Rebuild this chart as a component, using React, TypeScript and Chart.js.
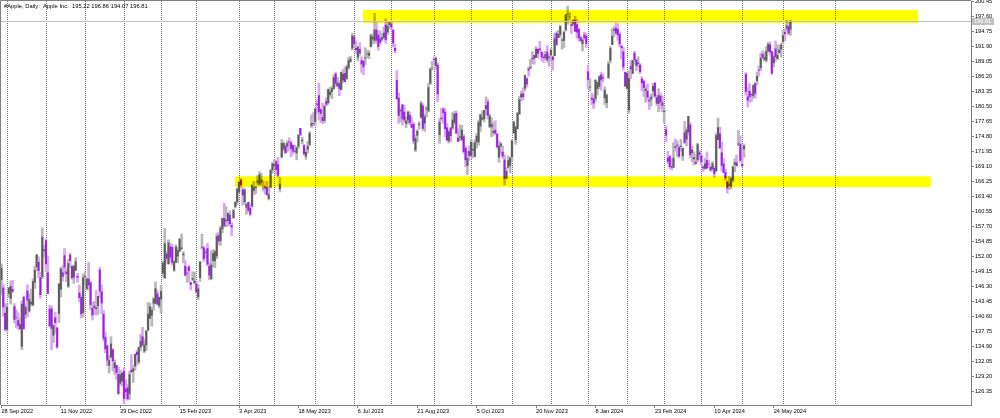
import React, { useEffect, useRef } from 'react';
import { Chart, registerables } from 'chart.js';
Chart.register(...registerables);

// ---- header ----
const headerTitle = '#Apple, Daily:  Apple Inc.';

// ---- daily OHLC, 28 Sep 2022 .. 7 Jun 2024 (one row per month) ----
const opens: number[] = [
  147.64,146.10,141.28,
  138.21,145.03,144.07,145.81,142.54,140.42,139.90,139.13,134.99,144.31,141.07,145.49,141.69,143.02,142.87,147.19,150.09,150.96,148.07,148.20,153.16,
  155.08,148.95,142.06,142.09,137.11,140.41,138.50,141.24,145.82,148.97,152.22,149.13,146.43,152.31,150.16,148.13,149.45,148.31,145.14,144.29,141.40,
  148.21,145.96,147.77,147.07,142.19,142.36,142.34,142.70,149.50,145.35,141.11,136.69,135.11,131.39,132.98,134.35,130.92,131.38,129.67,127.99,128.41,
  130.28,126.89,127.13,126.01,130.47,130.26,131.25,133.88,132.03,134.83,136.82,134.08,135.28,138.12,140.31,140.89,143.17,143.16,144.96,142.70,
  143.97,148.90,148.03,152.57,150.64,153.88,153.78,149.46,150.95,152.12,153.11,153.51,152.35,150.20,148.87,150.09,147.11,147.71,147.05,
  146.83,144.38,148.04,153.79,153.70,152.81,153.56,150.21,147.81,151.28,151.19,152.16,156.08,155.07,157.32,159.30,158.83,158.86,159.94,157.97,159.37,161.53,162.44,
  164.27,166.60,164.74,162.43,161.42,162.35,161.22,161.63,164.59,165.09,166.10,165.80,166.09,165.05,165.00,165.19,163.06,165.19,168.49,
  169.28,170.09,169.50,164.89,170.98,172.48,173.05,173.02,173.85,173.62,173.16,171.99,171.71,173.00,176.39,173.98,173.13,171.09,172.41,173.32,176.96,177.33,
  177.70,181.03,182.63,179.97,178.44,177.90,181.50,181.27,182.80,183.37,183.96,186.73,184.41,184.90,183.74,185.55,186.83,185.89,187.93,189.08,191.63,
  193.78,191.57,189.84,191.41,189.26,189.16,189.68,190.50,190.23,191.90,193.35,193.10,195.09,194.10,193.41,193.33,193.67,196.02,194.67,196.06,
  196.24,195.04,191.57,185.52,182.13,179.69,180.87,179.48,177.32,177.97,178.88,177.13,177.14,172.30,175.07,177.06,178.52,180.67,177.38,180.09,179.70,184.94,187.84,
  189.49,188.28,188.40,175.18,178.35,180.07,179.49,176.51,174.00,176.48,176.48,177.52,179.26,174.55,174.67,174.20,174.82,172.62,169.34,172.02,
  171.22,172.26,171.09,173.79,173.80,176.81,178.10,178.20,180.07,181.42,176.75,176.65,175.58,176.04,175.31,170.91,173.05,171.88,170.37,166.91,169.02,169.35,
  171.00,175.52,174.24,176.38,179.18,182.35,182.96,183.97,185.82,187.70,187.85,189.57,190.25,189.89,191.41,191.49,190.87,189.92,189.78,190.90,189.84,
  190.33,189.98,190.21,194.45,193.63,194.20,193.11,193.08,195.09,198.02,197.53,196.09,196.16,196.90,196.10,195.18,193.61,192.49,194.14,193.90,
  187.15,184.22,182.15,181.99,182.09,183.92,184.35,186.54,186.06,182.16,181.27,186.09,189.33,192.30,195.02,195.42,195.22,194.27,192.01,190.94,187.04,
  183.99,179.86,188.15,186.86,190.64,189.39,188.65,188.42,185.77,185.32,183.55,183.42,181.79,181.94,183.48,185.01,182.24,181.10,182.51,181.27,
  179.55,176.15,170.76,171.06,169.15,169.00,172.94,173.15,172.77,172.91,171.17,175.57,174.34,175.72,177.05,171.76,170.57,170.00,170.41,171.75,
  171.19,169.08,168.79,170.29,169.59,169.03,168.70,168.80,168.34,174.26,175.36,171.75,169.61,168.03,166.21,165.52,165.35,166.54,169.53,169.88,173.37,173.33,
  169.58,172.51,186.65,182.35,183.45,182.85,182.56,184.90,185.44,187.51,187.91,190.47,189.51,189.33,191.09,192.27,190.98,188.82,191.51,189.61,190.76,191.44,
  192.90,194.64,195.40,195.69,195.22,
];
const highs: number[] = [
  150.64,146.72,143.10,
  143.07,146.22,147.38,147.54,143.10,141.89,141.35,140.36,143.59,144.52,142.90,146.70,144.95,145.89,147.85,150.23,152.49,151.99,149.05,157.50,154.24,
  155.45,152.17,142.80,142.67,139.15,141.43,138.55,146.87,150.01,150.28,153.59,149.87,151.48,152.70,150.37,150.42,151.83,148.88,146.64,144.81,148.72,
  149.13,148.00,150.92,147.30,143.37,143.52,145.57,144.50,149.97,146.66,141.80,137.65,135.20,133.25,136.81,134.56,132.42,131.41,131.03,130.48,129.95,
  130.90,128.66,127.77,130.29,133.41,131.26,133.51,134.26,134.92,137.29,138.61,136.25,138.02,143.32,143.16,142.43,144.25,147.23,145.55,144.34,
  146.61,151.18,157.38,153.10,155.23,154.58,154.33,151.34,154.26,153.77,155.50,156.33,153.00,151.30,149.95,150.34,147.19,149.17,149.08,
  147.23,146.71,151.11,156.30,154.03,153.47,154.54,150.94,153.14,153.40,153.25,156.46,156.74,157.82,159.40,162.14,161.55,160.34,160.77,158.49,161.05,162.47,165.00,
  166.29,166.84,165.05,164.96,162.03,162.36,162.06,165.80,166.32,165.39,167.41,168.16,167.87,166.45,165.60,166.31,165.28,168.56,169.85,
  170.45,170.35,170.92,167.04,174.30,173.85,173.54,174.03,174.59,174.06,173.21,173.14,172.93,175.24,176.39,174.71,173.38,172.42,173.90,175.77,178.99,179.35,
  180.12,181.78,184.95,180.12,181.21,180.84,182.23,183.89,184.15,184.39,186.52,186.99,186.10,185.41,187.05,187.56,188.05,188.39,189.90,190.07,194.48,
  193.88,192.98,192.02,192.67,189.99,189.30,191.70,191.19,191.18,194.32,194.33,198.23,196.47,194.97,194.91,194.44,195.64,197.20,196.63,196.49,
  196.73,195.18,192.37,187.38,183.13,180.27,180.93,180.75,178.62,179.69,179.48,178.54,177.51,175.10,176.13,177.68,181.55,181.10,179.15,180.59,184.90,187.85,189.12,
  189.92,189.98,188.85,178.21,180.24,180.30,180.13,177.30,176.10,176.50,179.38,179.63,179.70,176.30,177.08,176.97,175.20,173.04,172.03,173.07,
  174.30,173.63,174.21,175.45,177.99,179.05,179.72,179.85,182.34,181.93,179.08,178.42,177.58,177.84,175.42,174.01,173.67,173.06,171.38,168.96,171.17,170.90,
  174.23,177.78,176.82,179.43,182.44,183.45,184.12,186.57,186.03,188.11,189.50,190.96,190.38,191.91,191.52,192.93,190.90,190.67,191.08,192.09,190.32,
  191.56,190.05,194.40,194.76,195.00,195.99,193.49,194.72,198.00,199.62,198.40,196.63,196.95,197.68,197.08,195.41,193.89,193.50,194.66,194.40,
  188.44,185.88,183.09,182.76,185.60,185.15,186.40,187.05,186.74,184.26,182.93,189.14,191.95,195.33,195.75,196.38,196.27,194.76,192.20,191.80,187.10,
  186.95,187.33,189.25,189.31,191.05,189.54,189.99,188.67,186.21,185.53,184.49,184.85,182.43,182.89,184.96,185.04,182.76,183.92,183.12,182.57,
  180.53,176.90,172.04,171.24,170.73,173.70,174.38,174.03,173.19,174.31,172.62,177.71,176.61,178.67,177.49,173.05,171.94,171.42,173.60,172.23,
  171.25,169.34,170.68,171.92,170.39,169.20,170.08,169.09,175.46,178.36,176.63,173.76,170.65,168.64,166.40,167.26,167.05,169.30,170.61,171.34,176.03,174.99,
  172.71,173.42,187.00,184.20,184.90,183.07,184.66,185.09,187.10,188.30,190.65,191.10,190.81,191.92,192.73,192.82,191.00,190.58,193.00,192.25,192.18,192.57,
  194.99,195.32,196.90,196.50,196.86,
];
const lows: number[] = [
  144.84,140.68,138.00,
  137.69,144.26,143.01,145.22,139.45,138.57,138.22,138.16,134.37,138.19,140.27,140.61,141.50,142.65,142.65,146.00,149.36,148.04,144.13,147.82,151.92,
  149.13,145.00,138.75,134.38,135.67,137.49,134.59,139.50,144.37,147.43,148.56,147.29,146.15,149.97,147.72,146.93,149.34,147.12,143.38,140.35,140.55,
  146.61,145.65,145.77,141.92,140.00,141.10,140.90,141.06,144.24,141.16,136.03,133.73,131.32,129.89,132.75,130.30,129.64,128.72,125.87,127.73,127.43,
  124.17,125.08,124.76,124.89,129.89,128.12,130.46,131.44,131.66,134.13,135.03,133.77,134.22,137.90,140.30,138.81,141.90,143.08,142.85,142.28,
  141.32,148.17,147.83,150.78,150.64,151.17,150.42,149.22,150.92,150.86,152.88,153.35,150.85,148.41,147.16,147.24,145.72,147.45,146.83,
  145.01,143.90,147.33,153.46,151.13,151.83,150.23,147.61,147.70,150.10,149.92,151.64,154.28,154.15,156.54,157.81,157.68,157.85,157.87,155.98,159.35,161.27,161.91,
  164.22,165.11,161.80,162.00,160.08,160.51,159.78,161.42,163.82,164.03,165.65,165.54,165.56,164.49,163.89,163.73,162.80,165.19,167.88,
  168.64,167.54,167.16,164.31,170.76,172.11,171.60,171.90,172.17,171.00,171.47,171.80,170.42,172.58,174.94,173.45,171.28,170.52,171.69,173.11,176.57,176.76,
  176.93,179.26,178.04,177.43,177.32,177.46,180.63,180.97,182.44,182.02,183.78,184.27,184.41,182.59,183.67,185.01,185.23,185.67,187.60,188.94,191.26,
  191.76,190.62,189.20,190.24,187.04,186.60,188.47,189.78,189.63,191.81,192.42,192.65,192.50,191.23,192.25,192.92,193.32,192.55,194.14,195.26,
  195.28,191.85,190.69,181.92,177.35,177.58,177.01,177.60,176.55,177.31,177.05,176.50,173.48,171.96,173.74,176.25,178.33,176.01,175.82,178.55,179.50,184.74,187.48,
  188.28,187.61,181.47,173.54,177.79,177.34,174.82,173.98,173.58,173.82,176.17,177.13,175.40,173.86,174.05,174.15,171.66,169.05,167.62,170.34,
  170.93,170.82,170.97,172.68,173.18,175.80,177.95,177.60,179.04,178.14,176.51,174.80,175.11,175.19,172.64,169.93,171.45,170.65,165.67,166.83,168.87,167.90,
  170.12,175.46,173.35,176.21,178.97,181.59,181.81,183.53,184.21,186.30,187.78,188.65,188.57,189.88,189.74,190.83,189.25,188.90,189.40,188.97,188.19,
  189.23,187.45,190.18,192.11,193.59,193.67,191.42,191.72,194.85,196.16,197.00,194.39,195.89,194.83,193.50,192.97,192.83,191.09,193.17,191.73,
  183.89,183.43,180.88,180.17,181.50,182.73,183.92,183.62,185.19,180.93,180.30,185.83,188.82,192.26,193.83,194.34,193.11,191.94,189.58,187.47,184.35,
  183.82,179.25,185.84,186.77,188.61,187.35,188.00,186.79,183.51,182.44,181.35,181.67,180.00,180.66,182.46,182.23,180.65,179.56,180.13,179.53,
  177.38,173.79,169.62,168.68,168.49,168.94,172.05,171.01,170.76,172.05,170.29,173.52,173.03,175.09,170.84,170.06,169.45,169.58,170.11,170.51,
  169.48,168.23,168.58,168.82,168.95,168.24,168.35,167.11,168.16,174.21,172.50,168.27,168.00,166.55,164.08,164.77,164.92,166.21,168.15,169.18,173.10,170.00,
  169.11,170.89,182.66,180.42,181.32,181.45,182.11,182.13,184.62,186.29,187.37,189.66,189.18,189.01,190.92,190.27,186.63,188.04,189.10,189.51,190.63,189.91,
  192.52,193.03,194.87,194.17,194.07,
];
const closes: number[] = [
  149.84,142.48,138.20,
  142.45,146.10,146.40,145.43,140.09,140.42,138.98,138.34,142.99,138.38,142.41,143.75,143.86,143.39,147.27,149.45,152.34,149.35,144.80,155.74,153.34,
  150.65,145.03,138.88,138.38,138.92,139.50,134.87,146.87,149.70,148.28,150.04,148.79,150.72,151.29,148.01,150.18,151.07,148.11,144.22,141.17,148.03,
  148.31,147.81,146.63,142.91,140.94,142.65,142.16,144.49,145.47,143.21,136.50,134.51,132.37,132.30,135.45,132.23,131.86,130.03,126.04,129.61,129.93,
  125.07,126.36,125.02,129.62,130.15,130.73,133.49,133.41,134.76,135.94,135.21,135.27,137.87,141.11,142.53,141.86,143.96,145.93,143.00,144.29,
  145.43,150.82,154.50,151.73,154.65,151.92,150.87,151.01,153.85,153.20,155.33,153.71,152.55,148.48,148.91,149.40,146.71,147.92,147.41,
  145.31,145.91,151.03,153.83,151.60,152.87,150.59,148.50,150.47,152.59,152.99,155.85,155.00,157.40,159.28,157.83,158.93,160.25,158.28,157.65,160.77,162.36,164.90,
  166.17,165.63,163.76,164.66,162.03,160.80,160.10,165.56,165.21,165.23,166.47,167.63,166.65,165.02,165.33,163.77,163.76,168.41,169.68,
  169.59,168.54,167.45,165.79,173.57,173.50,171.77,173.56,173.75,172.57,172.07,172.07,172.69,175.05,175.16,174.20,171.56,171.84,172.99,175.43,177.30,177.25,
  180.09,180.95,179.58,179.21,177.82,180.57,180.96,183.79,183.31,183.95,186.01,184.92,185.01,183.96,187.00,186.68,185.27,188.06,189.25,189.59,193.97,
  192.46,191.33,191.81,190.68,188.61,188.08,189.77,190.54,190.69,193.99,193.73,195.10,193.13,191.94,192.75,193.62,194.50,193.22,195.83,196.45,
  195.61,192.58,191.17,181.99,178.85,179.80,178.19,177.97,177.79,179.46,177.45,176.57,174.00,174.49,175.84,177.23,181.12,176.38,178.61,180.19,184.12,187.65,187.87,
  189.46,189.70,182.91,177.56,178.18,179.36,176.30,174.21,175.74,175.01,177.97,179.07,175.49,173.93,174.79,176.08,171.96,170.43,170.69,171.21,
  173.75,172.40,173.66,174.91,177.49,178.99,178.39,179.80,180.71,178.85,178.72,177.15,175.84,175.46,172.88,173.00,173.44,171.10,166.89,168.22,170.29,170.77,
  173.97,177.57,176.65,179.23,181.82,182.89,182.41,186.40,184.80,187.44,188.01,189.71,189.69,191.45,190.64,191.31,189.97,189.79,190.40,189.37,189.95,
  191.24,189.43,193.42,192.32,194.27,195.71,193.18,194.71,197.96,198.11,197.57,195.89,196.94,194.83,194.68,193.60,193.05,193.15,193.58,192.53,
  185.64,184.25,181.91,181.18,185.56,185.14,186.19,185.59,185.92,183.63,182.68,188.63,191.56,193.89,195.18,194.50,194.17,192.42,191.73,188.04,184.40,
  186.86,185.85,187.68,189.30,189.41,188.32,188.85,187.15,185.04,184.15,183.86,182.31,181.56,182.32,184.37,182.52,181.16,182.63,181.42,180.75,
  179.66,175.10,170.12,169.12,169.00,170.73,172.75,173.23,171.13,173.00,172.62,173.72,176.08,178.67,171.37,172.28,170.85,169.71,173.31,171.48,
  170.03,168.84,169.65,168.82,169.58,168.45,169.67,167.78,175.04,176.55,172.69,169.38,168.00,167.04,165.00,165.84,166.90,169.02,169.89,169.30,173.50,170.33,
  169.30,173.03,183.38,181.71,182.40,182.74,184.57,183.05,186.28,187.43,189.72,189.84,189.87,191.04,192.35,190.90,186.88,189.98,189.99,190.29,191.29,192.25,
  194.03,194.35,195.87,194.48,196.81,
];

// ---- axis labels ----
const xTickLabels = [
  '28 Sep 2022', '11 Nov 2022', '29 Dec 2022', '15 Feb 2023', '3 Apr 2023', '18 May 2023', '6 Jul 2023',
  '21 Aug 2023', '5 Oct 2023', '20 Nov 2023', '8 Jan 2024', '23 Feb 2024', '10 Apr 2024', '24 May 2024',
];
const xTickEvery = 32; // bars between date labels
const monthStartBars = [3, 24, 45, 66, 86, 105, 128, 147, 169, 190, 210, 233, 253, 275, 296, 316, 337, 357, 377, 399, 421, 449];
const yTickValues = [
  200.45, 197.60, 194.75, 191.90, 189.05, 186.20, 183.35, 180.50, 177.65, 174.80, 171.95, 169.10, 166.25, 163.40,
  160.55, 157.70, 154.85, 152.00, 149.15, 146.30, 143.45, 140.60, 137.75, 134.90, 132.05, 129.20, 126.35,
];

// ---- yellow support / resistance zones ----
const zoneFromBar = [194.8, 125.8];
const zoneToBar = [493.7, 500.7];
const zoneLow = [196.41, 165.24];
const zoneHigh = [198.87, 167.29];

const FONT = 'Tahoma, "Liberation Sans", Arial, sans-serif';

export default function App() {
  const ref = useRef<HTMLCanvasElement>(null);
  useEffect(() => {
    document.body.style.margin = '0';
    const canvas = ref.current!;
    const idx = closes.map((_, i) => i);
    const isUp = (i: number) => closes[i] >= opens[i];
    const last = closes.length - 1;

    const mtPlugin = {
      id: 'mt',
      beforeDatasetsDraw(chart: any) {
        const { ctx, chartArea: a, scales } = chart;
        ctx.save();
        ctx.strokeStyle = '#6e6e6e';
        ctx.lineWidth = 1;
        ctx.setLineDash([1, 1]);
        monthStartBars.forEach((b) => {
          const x = Math.round(scales.x.getPixelForValue(b)) + 0.5;
          if (x > a.right) return;
          ctx.beginPath();
          ctx.moveTo(x, a.top);
          ctx.lineTo(x, a.bottom);
          ctx.stroke();
        });
        ctx.restore();
      },
      afterDatasetsDraw(chart: any) {
        const { ctx, chartArea: a, scales } = chart;
        ctx.save();
        ctx.globalCompositeOperation = 'multiply';
        ctx.fillStyle = '#ffff00';
        zoneFromBar.forEach((f, k) => {
          const x1 = scales.x.getPixelForValue(f);
          const x2 = scales.x.getPixelForValue(zoneToBar[k]);
          const y1 = scales.y.getPixelForValue(zoneHigh[k]);
          const y2 = scales.y.getPixelForValue(zoneLow[k]);
          ctx.fillRect(x1, y1, x2 - x1, y2 - y1);
        });
        ctx.restore();
        // current price line
        ctx.save();
        const py = Math.round(scales.y.getPixelForValue(closes[last])) + 0.5;
        ctx.strokeStyle = '#c0c0c0';
        ctx.lineWidth = 1;
        ctx.beginPath();
        ctx.moveTo(a.left, py);
        ctx.lineTo(a.right, py);
        ctx.stroke();
        ctx.restore();
      },
      afterDraw(chart: any) {
        const { ctx, chartArea: a, scales } = chart;
        ctx.save();
        // left / top frame
        ctx.strokeStyle = '#808080';
        ctx.lineWidth = 1;
        ctx.beginPath();
        ctx.moveTo(a.left - 0.5, a.bottom);
        ctx.lineTo(a.left - 0.5, a.top - 0.5);
        ctx.lineTo(a.right, a.top - 0.5);
        ctx.stroke();
        // header
        ctx.fillStyle = '#000';
        ctx.font = `5.8px ${FONT}`;
        ctx.textBaseline = 'top';
        ctx.textAlign = 'left';
        const hdr = `${headerTitle}  ${opens[last].toFixed(2)} ${highs[last].toFixed(2)} ${lows[last].toFixed(2)} ${closes[last].toFixed(2)}`;
        ctx.fillText(hdr, a.left + 3, a.top + 2);
        // price box
        const py = scales.y.getPixelForValue(closes[last]);
        ctx.fillStyle = '#c0c0c0';
        ctx.fillRect(a.right + 1, Math.round(py) - 3, 22, 7);
        ctx.fillStyle = '#ffffff';
        ctx.textBaseline = 'middle';
        ctx.font = `5.6px ${FONT}`;
        ctx.fillText(closes[last].toFixed(2), a.right + 3, py + 0.5);
        ctx.restore();
      },
    };

    const chart = new Chart(canvas, {
      type: 'bar',
      data: {
        datasets: [
          {
            data: idx.map((i) => ({ x: i, y: [lows[i], highs[i]] })) as any,
            backgroundColor: idx.map((i) => (isUp(i) ? '#b8b8b8' : '#dba6f3')),
            borderWidth: 0,
            barThickness: 2,
            grouped: false,
            order: 2,
          } as any,
          {
            data: idx.map((i) => ({ x: i, y: [Math.min(opens[i], closes[i]), Math.max(opens[i], closes[i])] })) as any,
            backgroundColor: idx.map((i) => (isUp(i) ? '#5c5c5c' : '#9e1ee8')),
            borderWidth: 0,
            barThickness: 1.3,
            grouped: false,
            order: 1,
          } as any,
        ],
      },
      options: {
        animation: false,
        responsive: false,
        maintainAspectRatio: false,
        layout: { padding: { left: 1, top: 1, right: 0, bottom: 0 } },
        plugins: { legend: { display: false }, tooltip: { enabled: false } },
        scales: {
          x: {
            type: 'linear',
            min: -0.23,
            max: 522.26,
            offset: false,
            afterFit: (s: any) => { s.height = 13; s.paddingLeft = 0; s.paddingRight = 0; },
            afterBuildTicks: (s: any) => { s.ticks = xTickLabels.map((_, k) => ({ value: k * xTickEvery })); },
            ticks: {
              callback: (v: any) => xTickLabels[Math.round(Number(v) / xTickEvery)] ?? '',
              align: 'start',
              maxRotation: 0,
              minRotation: 0,
              autoSkip: false,
              padding: 0,
              color: '#000',
              font: { family: FONT, size: 5.6 },
            },
            grid: { drawOnChartArea: false, offset: false, tickLength: 3, color: '#808080' },
            border: { color: '#808080' },
          } as any,
          y: {
            type: 'linear',
            position: 'right',
            min: 123.85,
            max: 200.58,
            beginAtZero: false,
            afterFit: (s: any) => { s.width = 29; s.paddingTop = 0; s.paddingBottom = 0; },
            afterBuildTicks: (s: any) => { s.ticks = yTickValues.map((v) => ({ value: v })); },
            ticks: {
              callback: (v: any) => Number(v).toFixed(2),
              crossAlign: 'near',
              autoSkip: false,
              padding: 1,
              color: '#000',
              font: { family: FONT, size: 5.6 },
            },
            grid: { drawOnChartArea: false, tickLength: 3, color: '#808080' },
            border: { color: '#808080' },
          } as any,
        },
      },
      plugins: [mtPlugin],
    });
    return () => chart.destroy();
  }, []);
  return <canvas ref={ref} width={1000} height={418} style={{ display: 'block' }} />;
}
